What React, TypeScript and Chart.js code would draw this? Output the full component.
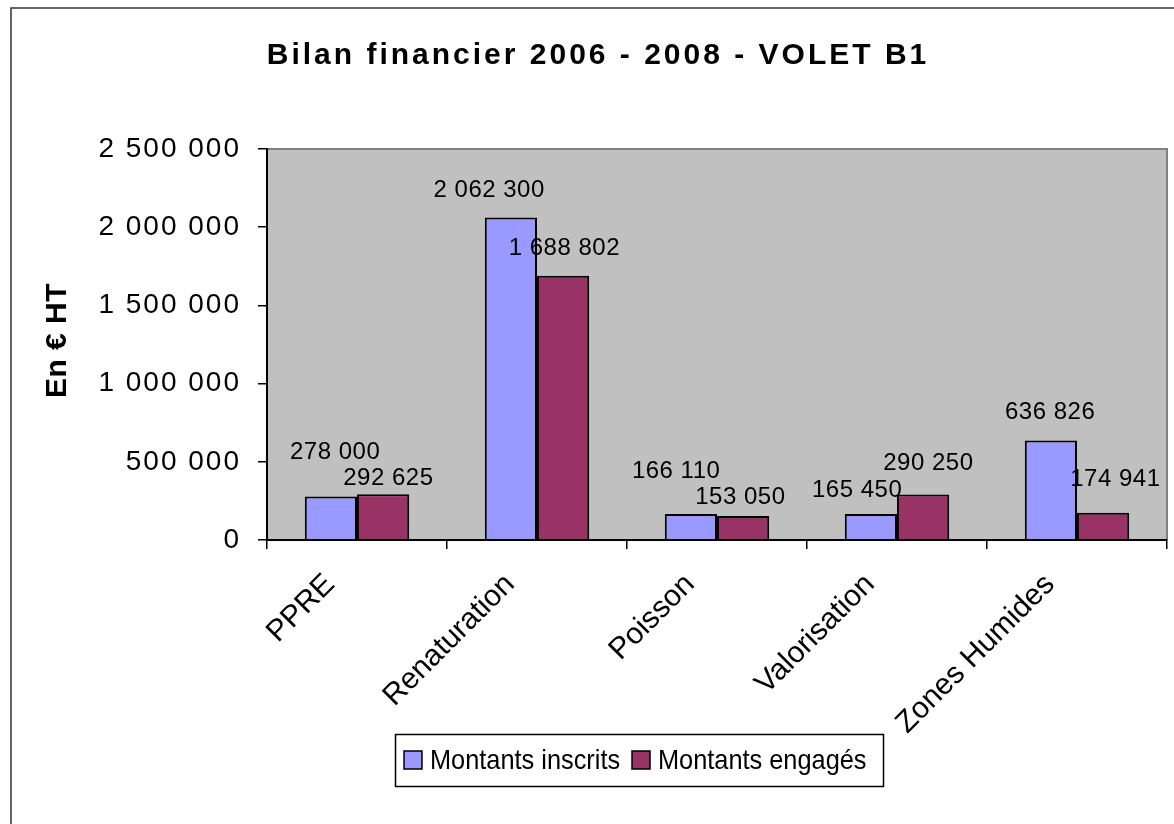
import React, { useEffect, useRef } from "react";
import { Chart, registerables } from "chart.js";

Chart.register(...registerables);

const categories = ["PPRE", "Renaturation", "Poisson", "Valorisation", "Zones Humides"];
const inscrits = [278000, 2062300, 166110, 165450, 636826];
const engages = [292625, 1688802, 153050, 290250, 174941];
const seriesNames = ["Montants inscrits", "Montants engagés"];
const yTicks = [0, 500000, 1000000, 1500000, 2000000, 2500000];
const titleText = "Bilan financier 2006 - 2008 - VOLET B1";
const yTitle = "En € HT";

// label offsets (px) relative to bar top centre, as placed in the original
const labelDx = [
  [4, -22, -15, -14, -1],
  [5, 1, -3, 5, 12],
];
const labelDy = [
  [-44, -27, -43, -24, -28],
  [-16, -27, -19, -31, -33],
];

const FONT = "'Liberation Sans', Arial, sans-serif";
const fmt = (v: number) => String(Math.round(v)).replace(/\B(?=(\d{3})+(?!\d))/g, " ");
const tickSpacing: Record<string, string> = { x: "0px", y: "2px" };

const decorPlugin = {
  id: "decor",
  afterLayout(chart: any) {
    Object.keys(tickSpacing).forEach((id) => {
      const s = chart.scales[id];
      if (!s || s.__patched) return;
      const orig = s.drawLabels;
      s.drawLabels = function (area: any) {
        const c = this.ctx as any;
        const prev = c.letterSpacing;
        c.letterSpacing = tickSpacing[id];
        orig.call(this, area);
        c.letterSpacing = prev;
      };
      s.__patched = true;
    });
  },
  beforeDraw(chart: any) {
    const { ctx, chartArea: a } = chart;
    ctx.save();
    ctx.fillStyle = "#ffffff";
    ctx.fillRect(0, 0, chart.width, chart.height);
    // outer frame
    ctx.strokeStyle = "#333333";
    ctx.lineWidth = 1.5;
    ctx.beginPath();
    ctx.moveTo(11, 3000);
    ctx.lineTo(11, 8);
    ctx.lineTo(3000, 8);
    ctx.stroke();
    // plot area
    ctx.fillStyle = "#C0C0C0";
    ctx.fillRect(a.left, a.top, a.right - a.left, a.bottom - a.top);
    ctx.strokeStyle = "#808080";
    ctx.lineWidth = 2;
    ctx.beginPath();
    ctx.moveTo(a.left, a.top);
    ctx.lineTo(a.right, a.top);
    ctx.lineTo(a.right, a.bottom);
    ctx.stroke();
    ctx.restore();
  },
  afterDatasetsDraw(chart: any) {
    const { ctx } = chart;
    ctx.save();
    (ctx as any).letterSpacing = "0.5px";
    ctx.font = `24px ${FONT}`;
    ctx.fillStyle = "#000";
    ctx.textAlign = "center";
    ctx.textBaseline = "middle";
    chart.data.datasets.forEach((ds: any, i: number) => {
      const meta = chart.getDatasetMeta(i);
      meta.data.forEach((el: any, j: number) => {
        ctx.fillText(fmt(ds.data[j]), el.x + labelDx[i][j] + 0.25, el.y + labelDy[i][j]);
      });
    });
    ctx.restore();
  },
  afterDraw(chart: any) {
    const { ctx, chartArea: a } = chart;
    ctx.save();
    // title
    (ctx as any).letterSpacing = "3px";
    ctx.font = `bold 30px ${FONT}`;
    ctx.fillStyle = "#000";
    ctx.textAlign = "center";
    ctx.textBaseline = "alphabetic";
    ctx.fillText(titleText, 598, 64);
    // y title
    ctx.save();
    (ctx as any).letterSpacing = "0.5px";
    ctx.translate(58, (a.top + a.bottom) / 2 - 4);
    ctx.rotate(-Math.PI / 2);
    ctx.textBaseline = "middle";
    ctx.font = `bold 30px ${FONT}`;
    ctx.fillText(yTitle, 0, 0);
    ctx.restore();
    // legend
    (ctx as any).letterSpacing = "0px";
    ctx.lineWidth = 1.5;
    ctx.strokeStyle = "#000";
    ctx.strokeRect(395.5, 734.5, 488, 52);
    ctx.font = `28px ${FONT}`;
    ctx.textAlign = "left";
    ctx.textBaseline = "alphabetic";
    const items = [
      { x: 404, tx: 430 },
      { x: 632, tx: 658 },
    ];
    chart.data.datasets.forEach((ds: any, i: number) => {
      const it = items[i];
      ctx.fillStyle = ds.backgroundColor;
      ctx.fillRect(it.x, 751, 18, 18);
      ctx.strokeRect(it.x, 751, 18, 18);
      ctx.fillStyle = "#000";
      ctx.save();
      ctx.translate(it.tx, 769);
      ctx.scale(0.905, 1);
      ctx.fillText(ds.label, 0, 0);
      ctx.restore();
    });
    ctx.restore();
  },
};

export default function App() {
  const ref = useRef<HTMLCanvasElement | null>(null);
  useEffect(() => {
    if (!ref.current) return;
    const chart = new Chart(ref.current, {
      type: "bar",
      data: {
        labels: categories,
        datasets: [
          {
            label: seriesNames[0],
            data: inscrits,
            backgroundColor: "#9999FF",
            borderColor: "#000000",
            borderWidth: 2,
            categoryPercentage: 0.58,
            barPercentage: 1,
          },
          {
            label: seriesNames[1],
            data: engages,
            backgroundColor: "#993366",
            borderColor: "#000000",
            borderWidth: 2,
            categoryPercentage: 0.58,
            barPercentage: 1,
          },
        ],
      },
      options: {
        responsive: false,
        animation: false,
        layout: { padding: { top: 149, right: 7, left: 0, bottom: 0 } },
        plugins: {
          legend: { display: false },
          title: { display: false },
          tooltip: { enabled: false },
        },
        scales: {
          x: {
            offset: true,
            afterFit: (s: any) => {
              s.height = 284;
            },
            grid: {
              offset: true,
              drawOnChartArea: false,
              drawTicks: true,
              tickLength: 9,
              color: "#000",
              lineWidth: 1.5,
            },
            border: { display: true, color: "#000", width: 2 },
            ticks: {
              autoSkip: false,
              minRotation: 45,
              maxRotation: 45,
              color: "#000",
              padding: 18,
              labelOffset: -27,
              font: { family: FONT, size: 30 },
            },
          },
          y: {
            min: 0,
            max: 2500000,
            afterFit: (s: any) => {
              s.width = 267;
            },
            afterBuildTicks: (s: any) => {
              s.ticks = yTicks.map((v) => ({ value: v }));
            },
            grid: {
              drawOnChartArea: false,
              drawTicks: true,
              tickLength: 9,
              color: "#000",
              lineWidth: 1.5,
            },
            border: { display: true, color: "#000", width: 2 },
            ticks: {
              color: "#000",
              padding: 17,
              font: { family: FONT, size: 28 },
              callback: (v: any) => fmt(Number(v)),
            },
          },
        },
      },
      plugins: [decorPlugin],
    });
    return () => chart.destroy();
  }, []);
  return (
    <div style={{ position: "absolute", left: 0, top: 0, width: 1174, height: 824 }}>
      <canvas ref={ref} width={1174} height={824} style={{ display: "block" }} />
    </div>
  );
}
